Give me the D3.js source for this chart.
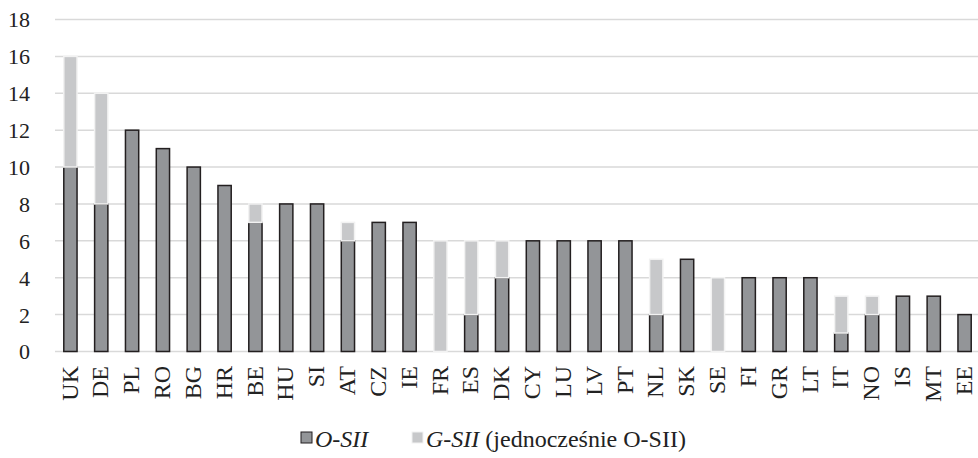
<!DOCTYPE html>
<html><head><meta charset="utf-8">
<script src="https://cdn.jsdelivr.net/npm/d3@7"></script>
<style>body{margin:0;background:#fff}svg{display:block}</style>
</head><body>
<script>
const categories = ["UK","DE","PL","RO","BG","HR","BE","HU","SI","AT","CZ","IE","FR","ES","DK","CY","LU","LV","PT","NL","SK","SE","FI","GR","LT","IT","NO","IS","MT","EE"];
const osii = [10,8,12,11,10,9,7,8,8,6,7,7,0,2,4,6,6,6,6,2,5,0,4,4,4,1,2,3,3,2];
const gsii = [6,6,0,0,0,0,1,0,0,1,0,0,6,4,2,0,0,0,0,3,0,4,0,0,0,2,1,0,0,0];
const yTicks = [0,2,4,6,8,10,12,14,16,18];

const W = 978, H = 458;
const font = "'Liberation Serif','Times New Roman',serif";
const svg = d3.select("body").append("svg").attr("width", W).attr("height", H);

const x = d3.scaleBand().domain(categories).range([55, 980]).paddingInner(0.57).paddingOuter(0.285);
const y = d3.scaleLinear().domain([0, 18]).range([351.5, 19.5]);

// gridlines
svg.append("g").selectAll("line").data(yTicks).join("line")
  .attr("x1", 55).attr("x2", W).attr("y1", d => y(d)).attr("y2", d => y(d))
  .attr("stroke", "#d9d9d9").attr("stroke-width", 1.5);

// y axis labels
const yAxis = d3.axisLeft(y).tickValues(yTicks).tickSize(0).tickPadding(0);
const ya = svg.append("g").attr("transform", "translate(30,0)").call(yAxis);
ya.select(".domain").remove();
ya.selectAll("text").attr("font-family", font).attr("font-size", 22).attr("fill", "#222").attr("dy", "0.34em");

// x axis labels
const xAxis = d3.axisBottom(x).tickSize(0).tickPadding(0);
const xa = svg.append("g").attr("transform", "translate(0,366)").call(xAxis);
xa.select(".domain").remove();
xa.selectAll("text").attr("font-family", font).attr("font-size", 24).attr("fill", "#222")
  .attr("transform", "rotate(-90)").attr("text-anchor", "end").attr("x", 0).attr("y", 0).attr("dy", "0.3em");

const data = categories.map((c, i) => ({c, o: osii[i], g: gsii[i]}));
// O-SII bars
svg.append("g").selectAll("rect").data(data.filter(d => d.o > 0)).join("rect")
  .attr("x", d => x(d.c)).attr("width", x.bandwidth())
  .attr("y", d => y(d.o)).attr("height", d => y(0) - y(d.o))
  .attr("fill", "#939598").attr("stroke", "#231f20").attr("stroke-width", 1.5);
// G-SII bars
svg.append("g").selectAll("rect").data(data.filter(d => d.g > 0)).join("rect")
  .attr("x", d => x(d.c)).attr("width", x.bandwidth())
  .attr("y", d => y(d.o + d.g)).attr("height", d => y(d.o) - y(d.o + d.g))
  .attr("fill", "#c7c8ca").attr("stroke", "#f2f2f2").attr("stroke-width", 1.5);

// legend
const lg = svg.append("g").attr("font-family", font).attr("font-size", 24).attr("fill", "#222");
lg.append("rect").attr("x", 301).attr("y", 432).attr("width", 11).attr("height", 11)
  .attr("fill", "#939598").attr("stroke", "#231f20").attr("stroke-width", 1);
lg.append("text").attr("x", 315).attr("y", 447).attr("font-style", "italic").text("O-SII");
lg.append("rect").attr("x", 412).attr("y", 432).attr("width", 11).attr("height", 11)
  .attr("fill", "#c7c8ca").attr("stroke", "#f2f2f2").attr("stroke-width", 1);
const t2 = lg.append("text").attr("x", 426).attr("y", 447);
t2.append("tspan").attr("font-style", "italic").text("G-SII");
t2.append("tspan").text(" (jednocześnie O-SII)");
</script>
</body></html>
